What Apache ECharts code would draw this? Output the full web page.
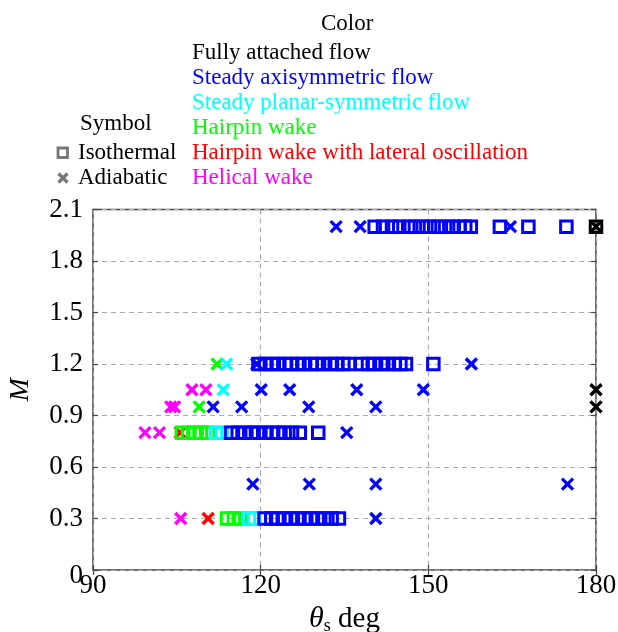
<!DOCTYPE html>
<html>
<head>
<meta charset="utf-8">
<script src="https://cdn.jsdelivr.net/npm/echarts@6/dist/echarts.min.js"></script>
<style>
  html, body { margin: 0; padding: 0; background: #fff; }
  #chart { width: 618px; height: 632px; }
</style>
</head>
<body>
<div id="chart"></div>
<script>
// values: [theta_s (deg), M]
const blueIso = [
  [140.4, 2.0], [141.9, 2.0], [143.5, 2.0], [144.8, 2.0], [146.4, 2.0], [147.6, 2.0], [149.0, 2.0],
  [150.3, 2.0], [151.7, 2.0], [153.0, 2.0], [154.3, 2.0], [155.6, 2.0], [156.6, 2.0], [157.6, 2.0],
  [162.8, 2.0], [167.9, 2.0], [174.7, 2.0],
  [119.6, 1.2], [120.8, 1.2], [122.0, 1.2], [123.1, 1.2], [124.4, 1.2], [125.4, 1.2], [126.6, 1.2],
  [127.7, 1.2], [129.0, 1.2], [130.0, 1.2], [131.2, 1.2], [132.5, 1.2], [133.6, 1.2], [134.8, 1.2],
  [135.8, 1.2], [138.0, 1.2], [139.2, 1.2], [140.3, 1.2], [141.6, 1.2], [142.7, 1.2], [144.0, 1.2],
  [145.0, 1.2], [146.0, 1.2], [150.9, 1.2],
  [114.7, 0.8], [115.9, 0.8], [117.1, 0.8], [118.4, 0.8], [119.5, 0.8], [120.8, 0.8], [122.0, 0.8],
  [123.1, 0.8], [124.3, 0.8], [125.6, 0.8], [127.0, 0.8], [130.3, 0.8],
  [120.7, 0.3], [121.9, 0.3], [123.0, 0.3], [124.2, 0.3], [125.4, 0.3], [126.6, 0.3], [127.8, 0.3],
  [129.0, 0.3], [130.2, 0.3], [131.4, 0.3], [132.7, 0.3], [134.0, 0.3]
];
const blueAdi = [
  [133.5, 2.0], [137.8, 2.0], [164.7, 2.0],
  [119.3, 1.2], [157.7, 1.2],
  [120.1, 1.05], [125.2, 1.05], [137.2, 1.05], [149.1, 1.05],
  [111.5, 0.95], [116.6, 0.95], [128.6, 0.95], [140.6, 0.95],
  [135.4, 0.8],
  [118.6, 0.5], [128.7, 0.5], [140.6, 0.5], [174.9, 0.5],
  [140.6, 0.3]
];
const cyanIso = [[112.0, 0.8], [113.0, 0.8], [117.9, 0.3], [118.8, 0.3]];
const cyanAdi = [[113.9, 1.2], [113.3, 1.05]];
const greenIso = [
  [105.9, 0.8], [107.0, 0.8], [108.2, 0.8], [109.3, 0.8], [110.6, 0.8],
  [114.0, 0.3], [115.2, 0.3], [116.4, 0.3]
];
const greenAdi = [[112.2, 1.2], [109.0, 0.95]];
const redAdi = [[105.6, 0.8], [110.6, 0.3]];
const magentaAdi = [
  [107.7, 1.05], [110.2, 1.05],
  [103.9, 0.95], [104.6, 0.95],
  [99.3, 0.8], [101.9, 0.8],
  [105.7, 0.3]
];
const blackIso = [[180, 2.0]];
const blackAdi = [[180, 2.0], [180, 1.05], [180, 0.95]];

const xTicks = [90, 120, 150, 180];
const yTicks = [0, 0.3, 0.6, 0.9, 1.2, 1.5, 1.8, 2.1];

const flowTypes = [
  "Fully attached flow",
  "Steady axisymmetric flow",
  "Steady planar-symmetric flow",
  "Hairpin wake",
  "Hairpin wake with lateral oscillation",
  "Helical wake"
];
const flowColors = ["#000000", "#0000ff", "#00ffff", "#00ff00", "#ff0000", "#ff00ff"];
const symbolNames = ["Isothermal", "Adiabatic"];

const FONT = "'Liberation Serif', 'DejaVu Serif', serif";
const CROSS = "path://M0,0L10,10M0,10L10,0";

function iso(data, color) {
  return {
    type: "scatter", data: data, symbol: "rect", symbolSize: 11.5,
    itemStyle: { color: "rgba(0,0,0,0)", borderColor: color, borderWidth: 3, opacity: 1 },
    emphasis: { disabled: true }, silent: true
  };
}
function adi(data, color) {
  return {
    type: "scatter", data: data, symbol: CROSS, symbolSize: 11,
    itemStyle: { color: "rgba(0,0,0,0)", borderColor: color, borderWidth: 3.4, opacity: 1 },
    emphasis: { disabled: true }, silent: true
  };
}

const LF = "23px " + FONT;
const legendGraphics = [
  { type: "text", left: 321, top: 12, style: { text: "Color", font: LF, fill: "#000" } },
  { type: "text", left: 80, top: 112, style: { text: "Symbol", font: LF, fill: "#000" } }
];
flowTypes.forEach((t, i) => {
  legendGraphics.push({
    type: "text", left: 192, top: 41 + i * 25,
    style: { text: t, font: LF, fill: flowColors[i] }
  });
});
symbolNames.forEach((t, i) => {
  legendGraphics.push({
    type: "text", left: 78, top: 141 + i * 25,
    style: { text: t, font: LF, fill: "#000" }
  });
});
legendGraphics.push({
  type: "rect", shape: { x: 58, y: 148, width: 9.5, height: 9.5 },
  style: { fill: "none", stroke: "#777", lineWidth: 2.8 }
});
legendGraphics.push({
  type: "polyline", shape: { points: [[58.5, 173.5], [67.5, 182.5]] },
  style: { stroke: "#777", lineWidth: 3.2 }
});
legendGraphics.push({
  type: "polyline", shape: { points: [[58.5, 182.5], [67.5, 173.5]] },
  style: { stroke: "#777", lineWidth: 3.2 }
});

const chart = echarts.init(document.getElementById("chart"), null, { renderer: "canvas" });
chart.setOption({
  animation: false,
  backgroundColor: "#fff",
  textStyle: { fontFamily: FONT },
  grid: {
    left: 93, right: 22, top: 209.5, bottom: 62,
    containLabel: false, outerBoundsMode: "none",
    show: true, borderColor: "#444", borderWidth: 1.5, backgroundColor: "transparent"
  },
  graphic: legendGraphics,
  xAxis: [{
    type: "value", min: xTicks[0], max: xTicks[xTicks.length - 1], interval: 30,
    name: "{it|θ}{sub|s}{n| deg}", nameLocation: "middle", nameGap: 17,
    nameTextStyle: {
      rich: {
        it: { fontSize: 30, fontStyle: "italic", fontFamily: FONT, color: "#000" },
        sub: { fontSize: 18, fontFamily: FONT, color: "#000", padding: [15, 0, 0, 0] },
        n: { fontSize: 29, fontFamily: FONT, color: "#000" }
      }
    },
    axisLine: { show: false },
    axisTick: { show: true, inside: true, length: 5, lineStyle: { color: "#444", width: 1.2 } },
    axisLabel: { fontSize: 27, color: "#000", fontFamily: FONT, margin: 2 },
    splitLine: { show: true, lineStyle: { type: [5, 4], color: "#aaa", width: 1.2 } }
  }, {
    type: "value", position: "top", min: 90, max: 180, interval: 30,
    axisLine: { show: false }, axisLabel: { show: false }, splitLine: { show: false },
    axisTick: { show: true, inside: true, length: 5, lineStyle: { color: "#444", width: 1.2 } }
  }],
  yAxis: [{
    type: "value", min: yTicks[0], max: yTicks[yTicks.length - 1], interval: 0.3,
    name: "M", nameLocation: "middle", nameGap: 58,
    nameTextStyle: { fontSize: 28, fontStyle: "italic", fontFamily: FONT, color: "#000" },
    axisLine: { show: false },
    axisTick: { show: true, inside: true, length: 5, lineStyle: { color: "#444", width: 1.2 } },
    axisLabel: {
      fontSize: 27, color: "#000", fontFamily: FONT, margin: 10,
      formatter: v => (v === 0 ? "{z|0}" : v.toFixed(1)),
      rich: { z: { fontSize: 27, fontFamily: FONT, color: "#000", padding: [12, 0, 0, 0] } }
    },
    splitLine: { show: true, lineStyle: { type: [5, 4], color: "#aaa", width: 1.2 } }
  }, {
    type: "value", position: "right", min: 0, max: 2.1, interval: 0.3,
    axisLine: { show: false }, axisLabel: { show: false }, splitLine: { show: false },
    axisTick: { show: true, inside: true, length: 5, lineStyle: { color: "#444", width: 1.2 } }
  }],
  series: [
    adi(magentaAdi, "#ff00ff"),
    adi(redAdi, "#ff0000"),
    iso(greenIso, "#00ff00"),
    adi(greenAdi, "#00ff00"),
    iso(cyanIso, "#00ffff"),
    adi(cyanAdi, "#00ffff"),
    iso(blueIso, "#0000ff"),
    adi(blueAdi, "#0000ff"),
    iso(blackIso, "#000000"),
    adi(blackAdi, "#000000")
  ]
});
</script>
</body>
</html>
